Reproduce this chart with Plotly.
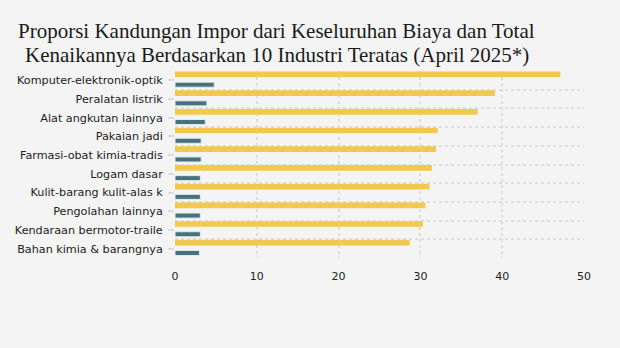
import plotly.graph_objects as go

# Industri (urut dari atas) dan nilai persentase
industri = [
    "Komputer-elektronik-optik",
    "Peralatan listrik",
    "Alat angkutan lainnya",
    "Pakaian jadi",
    "Farmasi-obat kimia-tradis",
    "Logam dasar",
    "Kulit-barang kulit-alas k",
    "Pengolahan lainnya",
    "Kendaraan bermotor-traile",
    "Bahan kimia & barangnya",
]
proporsi_impor = [47.1, 39.1, 37.0, 32.1, 31.9, 31.4, 31.1, 30.6, 30.3, 28.7]
kenaikan_total = [4.8, 3.9, 3.7, 3.2, 3.2, 3.1, 3.1, 3.1, 3.1, 3.0]
x_ticks = [0, 10, 20, 30, 40, 50]

judul_1 = "Proporsi Kandungan Impor dari Keseluruhan Biaya dan Total"
judul_2 = "Kenaikannya Berdasarkan 10 Industri Teratas (April 2025*)"

posisi = list(range(len(industri)))
batas = [p - 0.5 for p in posisi] + [posisi[-1] + 0.5]

BG = "#f4f4f4"
GRID = "#dedede"

fig = go.Figure()
fig.add_trace(go.Bar(
    y=posisi, x=proporsi_impor, orientation="h",
    name="Proporsi kandungan impor",
    marker=dict(color="#f2c84f", line=dict(width=0)),
    offset=-0.47, width=0.305,
))
fig.add_trace(go.Bar(
    y=posisi, x=kenaikan_total, orientation="h",
    name="Kenaikan total",
    marker=dict(color="#46727b", line=dict(color="#e6eaeb", width=1)),
    offset=0.095, width=0.27,
))

fig.update_layout(
    width=620, height=348,
    paper_bgcolor=BG, plot_bgcolor=BG,
    margin=dict(l=175, r=35.5, t=70.7, b=90.3),
    barmode="overlay",
    showlegend=False,
    font=dict(family="DejaVu Sans", size=11, color="#333333"),
)

fig.update_xaxes(
    range=[0, 50], tickvals=x_ticks,
    showgrid=True, gridcolor=GRID, gridwidth=2, griddash="dot",
    zeroline=False, showline=False, ticks="",
    ticklabelstandoff=10,
    tickfont=dict(family="DejaVu Sans", size=11, color="#222222"),
)
fig.update_yaxes(
    range=[batas[-1], batas[0]],
    tickvals=posisi, ticktext=industri,
    showgrid=False, zeroline=False, showline=False,
    ticks="outside", ticklen=6, tickwidth=2, tickcolor="#dcdcdc",
    ticklabelstandoff=3,
    tickfont=dict(family="DejaVu Sans", size=11.2, color="#222222"),
    minor=dict(tickvals=batas, showgrid=True, gridcolor=GRID,
               gridwidth=2, griddash="dot", ticks=""),
)

for teks, yp in [(judul_1, 1.212), (judul_2, 1.087)]:
    fig.add_annotation(
        text=teks, xref="paper", yref="paper", x=0.249, y=yp,
        xanchor="center", yanchor="middle", showarrow=False,
        font=dict(family="Liberation Serif", size=21, color="#1a1a1a"),
    )

fig.write_html("out.html")
